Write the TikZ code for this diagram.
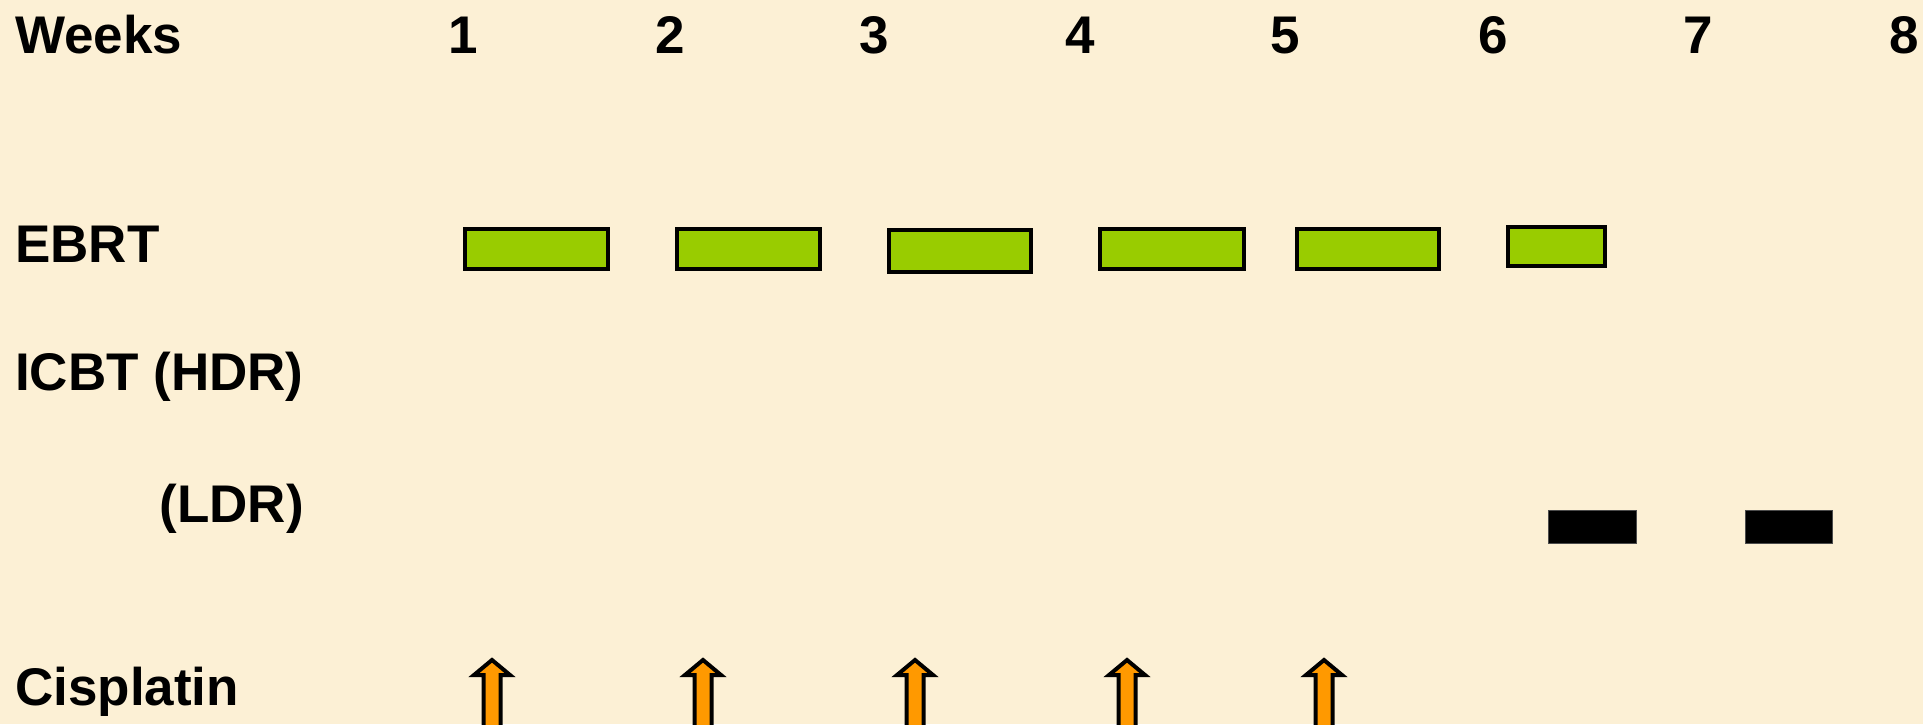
\documentclass[tikz,border=0pt]{standalone}
\usepackage{fontspec}
\setmainfont{Liberation Sans}
\definecolor{parchment}{RGB}{252,240,213}
\definecolor{ebrtgreen}{RGB}{153,204,0}
\definecolor{cisorange}{RGB}{255,153,0}
\tikzset{
  lbl/.style={inner sep=0pt,font=\fontsize{53}{58}\selectfont\bfseries},
  ebrtbox/.style={draw=black,line width=4pt,fill=ebrtgreen,inner sep=0pt},
  ldrbox/.style={draw=black!70,line width=1pt,fill=black,inner sep=0pt},
  cisarrow/.style={draw=black,line width=4pt,fill=cisorange,line join=miter}
}
\begin{document}
\begin{tikzpicture}[x=1pt,y=-1pt]
  \fill[parchment] (0,0) rectangle (1923,724);
  \useasboundingbox (0,0) rectangle (1923,724);
  % row labels
  \node[lbl,anchor=base west] (weeks) at (15,53) {Weeks};
  \node[lbl,anchor=base west] (ebrt) at (15,262) {EBRT};
  \node[lbl,anchor=base west] (icbt) at (15,390) {ICBT (HDR)};
  \node[lbl,anchor=base east] (ldr) at (icbt.east |- 0,522) {(LDR)};
  \node[lbl,anchor=base west] (cis) at (15,705) {Cisplatin};
  % week numbers
  \foreach \n/\x in {1/463,2/670,3/874,4/1080,5/1285,6/1493,7/1698,8/1904}
    \node[lbl,anchor=base] (wk\n) at (\x,53) {\n};
  % external beam
  \foreach \n/\x/\y/\w/\h in {1/536.5/249/143/40,2/748.5/249/143/40,3/960/251/142/42,
                              4/1172/249/144/40,5/1368/249/142/40,6/1556.5/246.5/97/39}
    \node[ebrtbox,minimum width=\w,minimum height=\h] (eb\n) at (\x,\y) {};
  % low dose rate
  \node[ldrbox,minimum width=88,minimum height=33] (ldr1) at (1592,526.5) {};
  \node[ldrbox,minimum width=87,minimum height=33] (ldr2) at (1788.5,526.5) {};
  % cisplatin
  \foreach \x in {492,703,915,1127,1324}
    \draw[cisarrow] (\x,660) -- (\x+18,675) -- (\x+8.5,675) -- (\x+8.5,728)
      -- (\x-8.5,728) -- (\x-8.5,675) -- (\x-18,675) -- cycle;
\end{tikzpicture}
\end{document}
